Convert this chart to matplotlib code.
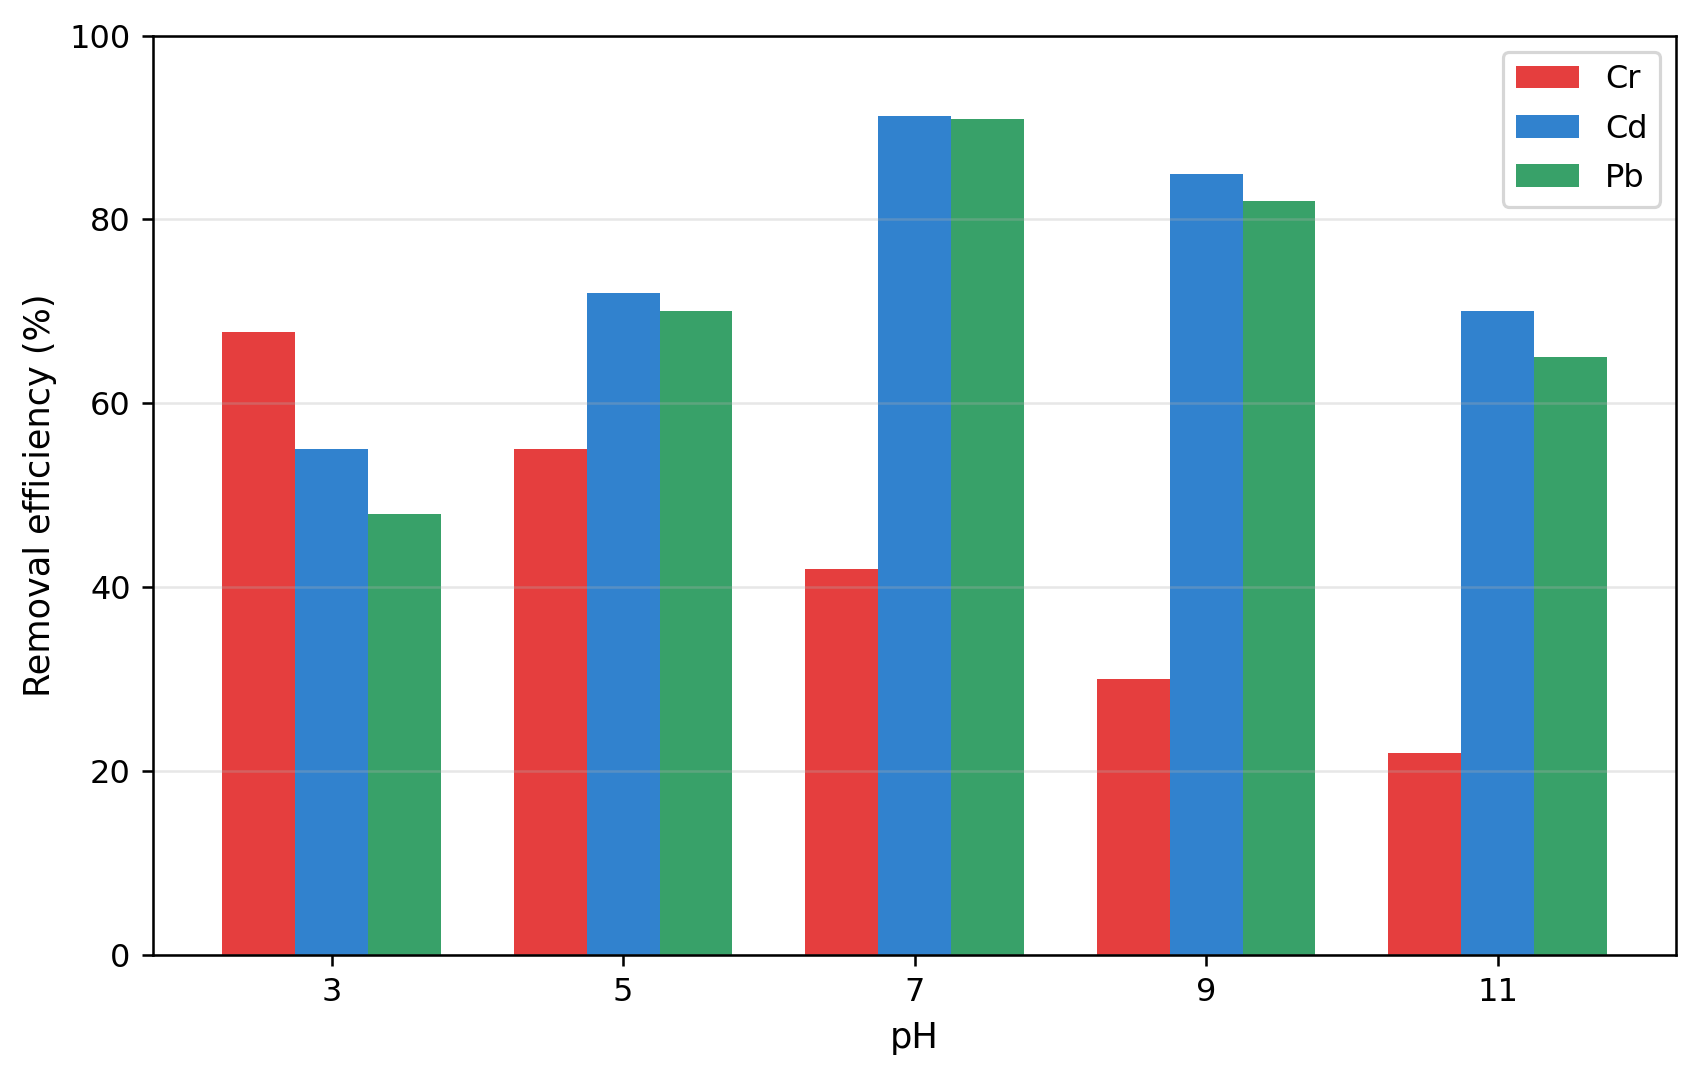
import matplotlib
matplotlib.use("Agg")
import matplotlib.pyplot as plt
import numpy as np

ph_labels = ["3", "5", "7", "9", "11"]
series_names = ["Cr", "Cd", "Pb"]
cr_values = [67.8, 55, 42, 30, 22]
cd_values = [55, 72, 91.3, 85, 70]
pb_values = [48, 70, 90.9, 82, 65]
colors = ["#E53E3E", "#3182CE", "#38A169"]

DPI = 230
fig, ax = plt.subplots(figsize=(1700 / DPI, 1080 / DPI), dpi=DPI)
x = np.arange(len(ph_labels))
w = 0.25
for i, (name, vals) in enumerate(zip(series_names, [cr_values, cd_values, pb_values])):
    ax.bar(x + (i - 1) * w, vals, w, label=name, color=colors[i])

ax.set_xticks(x)
ax.set_xticklabels(ph_labels)
ax.set_ylim(0, 100)
ax.set_xlabel("pH", fontsize=11)
ax.set_ylabel("Removal efficiency (%)", fontsize=11)
ax.grid(axis="y", alpha=0.3)
ax.legend(loc="upper right", fontsize=10, labelspacing=0.57)
fig.subplots_adjust(left=0.09, right=0.986, top=0.967, bottom=0.116)
fig.savefig("out.png", dpi=DPI)
